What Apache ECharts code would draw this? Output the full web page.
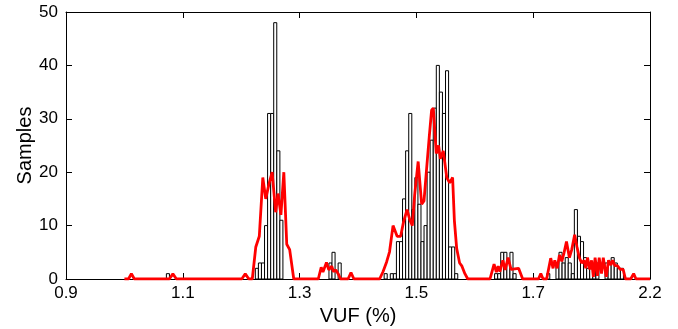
<!DOCTYPE html>
<html>
<head>
<meta charset="utf-8">
<script src="https://cdn.jsdelivr.net/npm/echarts@6/dist/echarts.min.js"></script>
<style>
html,body{margin:0;padding:0;background:#fff;}
#c{width:678px;height:329px;}
</style>
</head>
<body>
<div id="c"></div>
<script>
// x-axis tick positions and their printed labels
const tickValues = [0.9, 1.1, 1.3, 1.5, 1.7, 1.9];
const tickLabels = ["0.9", "1.1", "1.3", "1.5", "1.7", "2.2"];
const yTicks = [0, 10, 20, 30, 40, 50];

// histogram (measured samples): bin centres and counts
const binWidth = 0.00525;
const binCenters = [
  1.0745,
  1.2268, 1.2321, 1.2373, 1.2426, 1.2478, 1.2531, 1.2583, 1.2636, 1.2688,
  1.3529, 1.3581, 1.3686,
  1.4474, 1.4579, 1.4632, 1.4684, 1.4737, 1.4789, 1.4842, 1.4895, 1.4947, 1.5000,
  1.5052, 1.5105, 1.5157, 1.5210, 1.5262, 1.5315, 1.5367, 1.5420, 1.5472, 1.5525,
  1.5577, 1.5630, 1.5682,
  1.6365, 1.6418, 1.6470, 1.6523, 1.6575, 1.6628, 1.6681,
  1.7258, 1.7416, 1.7468, 1.7521, 1.7574, 1.7626, 1.7679, 1.7731, 1.7784, 1.7836,
  1.7889, 1.7941, 1.7994, 1.8046, 1.8099,
  1.8256, 1.8309, 1.8361, 1.8414, 1.8466, 1.8519
];
const binCounts = [
  1,
  2, 3, 3, 10, 31, 31, 48, 24, 11,
  3, 5, 3,
  1, 1, 1, 7, 7, 15, 24, 31, 13, 19,
  14, 7, 10, 20, 26, 32, 40, 35, 31, 39,
  6, 6, 1,
  1, 1, 5, 5, 3, 5, 1,
  1, 3, 5, 3, 4, 3, 1, 13, 8, 7,
  4, 2, 3, 2, 3,
  3, 3, 4, 3, 2, 2
];

// red curve (estimated distribution)
const curveX = [
  1.000, 1.007, 1.012, 1.017, 1.077, 1.083, 1.089,
  1.201, 1.207, 1.213, 1.219, 1.225, 1.231, 1.237, 1.242, 1.248, 1.253, 1.259,
  1.263, 1.268, 1.273, 1.278, 1.283, 1.290,
  1.332, 1.337, 1.340, 1.346, 1.350, 1.355, 1.358, 1.362, 1.366, 1.370,
  1.383, 1.388, 1.393,
  1.437, 1.443, 1.449, 1.454, 1.460, 1.467, 1.473, 1.478, 1.484, 1.489, 1.493,
  1.497, 1.503, 1.506, 1.509, 1.513, 1.517, 1.522, 1.526, 1.529, 1.534, 1.538,
  1.541, 1.546, 1.552, 1.557, 1.562, 1.565, 1.569, 1.574, 1.578, 1.583, 1.588,
  1.626, 1.633, 1.637, 1.640, 1.643, 1.648, 1.652, 1.657, 1.662, 1.665, 1.675, 1.682,
  1.709, 1.713, 1.717, 1.723, 1.730, 1.734, 1.737, 1.741, 1.745, 1.749, 1.753,
  1.757, 1.762, 1.766, 1.771, 1.775, 1.779, 1.783, 1.787, 1.790, 1.793, 1.797,
  1.800, 1.803, 1.806, 1.810, 1.813, 1.817, 1.820, 1.825, 1.829, 1.833, 1.836,
  1.840, 1.844, 1.849, 1.854, 1.858, 1.867, 1.872, 1.876, 1.900
];
const curveY = [
  0, 0, 1, 0, 0, 1, 0,
  0, 1, 0, 0, 6, 8, 19, 15, 18, 20, 12.5,
  16, 12, 20, 6.5, 5.5, 0,
  0, 2.2, 1.3, 3.1, 1.7, 2.4, 1.4, 1.7, 1, 0,
  0, 1.2, 0,
  0, 1.4, 3.2, 5.1, 10, 8, 8, 10.7, 13, 11, 10,
  15.7, 22, 18, 14, 14.6, 20, 26.6, 31.6, 32, 23.5, 25,
  22.5, 24, 19, 18, 19, 11, 5.7, 3, 2.4, 1, 0,
  0, 2.8, 1.3, 2.4, 1.4, 3.5, 1.7, 4, 1.8, 2, 2, 0,
  0, 1, 0, 0, 3.9, 2, 3.5, 2, 4.5, 3.3, 5,
  7, 4, 5.5, 8.3, 6, 4, 3, 3.5, 2, 4, 1.8,
  3.5, 0.4, 4, 0.6, 4, 1, 4, 0.4, 3.5, 2.6, 3.5,
  2.5, 2.5, 1.8, 1.8, 0, 0, 1, 0, 0
];

const chart = echarts.init(document.getElementById('c'), null, {renderer: 'canvas'});
const FONT = 'Liberation Sans, Arial, Helvetica, sans-serif';
const barData = binCenters.map((x, i) => [x, binCounts[i]]);
const lineData = curveX.map((x, i) => [x, curveY[i]]);

const baseX = {
  type: 'value', min: 0.9, max: 1.9,
  axisLine: {show: true, onZero: false, lineStyle: {color: '#000', width: 1}},
  axisTick: {show: true, inside: true, length: 6, customValues: tickValues, lineStyle: {color: '#000'}},
  splitLine: {show: false}
};
const baseY = {
  type: 'value', min: 0, max: 50, interval: 10,
  axisLine: {show: true, onZero: false, lineStyle: {color: '#000', width: 1}},
  axisTick: {show: true, inside: true, length: 6, lineStyle: {color: '#000'}},
  splitLine: {show: false}
};

chart.setOption({
  animation: false,
  backgroundColor: '#fff',
  grid: {left: 66, right: 28, top: 12, bottom: 50, containLabel: false, outerBoundsMode: 'none'},
  xAxis: [
    Object.assign({}, baseX, {
      position: 'bottom',
      name: 'VUF (%)', nameLocation: 'middle', nameGap: 26,
      nameTextStyle: {fontFamily: FONT, fontSize: 20, color: '#000'},
      axisLabel: {
        show: true, margin: 6, customValues: tickValues,
        fontFamily: FONT, fontSize: 17, color: '#000',
        formatter: v => tickLabels[Math.round((v - tickValues[0]) / 0.2)]
      }
    }),
    Object.assign({}, baseX, {position: 'top', axisLabel: {show: false}})
  ],
  yAxis: [
    Object.assign({}, baseY, {
      position: 'left',
      name: 'Samples', nameLocation: 'middle', nameGap: 31, nameMoveOverlap: false,
      nameTextStyle: {fontFamily: FONT, fontSize: 20, color: '#000'},
      axisLabel: {show: true, margin: 8, fontFamily: FONT, fontSize: 17, color: '#000'}
    }),
    Object.assign({}, baseY, {position: 'right', axisLabel: {show: false}})
  ],
  series: [
    {
      type: 'custom',
      xAxisIndex: 0, yAxisIndex: 0,
      data: barData,
      z: 2,
      renderItem: function (params, api) {
        const x = api.value(0), y = api.value(1);
        const p0 = api.coord([x - binWidth / 2, 0]);
        const p1 = api.coord([x + binWidth / 2, y]);
        return {
          type: 'rect',
          shape: {x: p0[0], y: p1[1], width: p1[0] - p0[0], height: p0[1] - p1[1]},
          style: {fill: '#ffffff', stroke: '#000000', lineWidth: 1}
        };
      }
    },
    {
      type: 'line',
      xAxisIndex: 0, yAxisIndex: 0,
      data: lineData,
      showSymbol: false,
      symbol: 'none',
      z: 3,
      lineStyle: {color: '#ff0000', width: 2.8},
      itemStyle: {color: '#ff0000'}
    }
  ]
});
</script>
</body>
</html>
